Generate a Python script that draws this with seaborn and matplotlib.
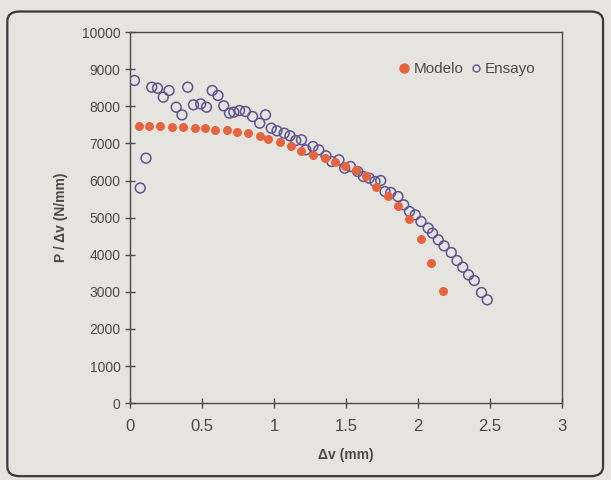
import numpy as np
import pandas as pd
import seaborn as sns
import matplotlib.pyplot as plt
from matplotlib.patches import FancyBboxPatch
from matplotlib.lines import Line2D

# Datos
modelo_x = [0.06, 0.13, 0.21, 0.29, 0.37, 0.45, 0.52, 0.59, 0.67, 0.74,
            0.82, 0.90, 0.96, 1.04, 1.12, 1.19, 1.27, 1.35, 1.42, 1.49,
            1.57, 1.64, 1.71, 1.79, 1.86, 1.94, 2.02, 2.09, 2.17]
modelo_y = [7470, 7470, 7470, 7440, 7440, 7410, 7410, 7370, 7350, 7320,
            7290, 7190, 7120, 7040, 6940, 6810, 6690, 6600, 6510, 6380,
            6290, 6130, 5840, 5590, 5320, 4960, 4430, 3790, 3030]

ensayo_x = [0.03, 0.07, 0.11, 0.15, 0.19, 0.23, 0.27, 0.32, 0.36, 0.40,
            0.44, 0.49, 0.53, 0.57, 0.61, 0.65, 0.69, 0.72, 0.76, 0.80,
            0.85, 0.90, 0.94, 0.98, 1.02, 1.07, 1.11, 1.15, 1.19, 1.22,
            1.27, 1.31, 1.36, 1.40, 1.45, 1.49, 1.53, 1.58, 1.62, 1.66,
            1.70, 1.74, 1.77, 1.81, 1.86, 1.90, 1.94, 1.98, 2.02, 2.07,
            2.10, 2.14, 2.18, 2.23, 2.27, 2.31, 2.35, 2.39, 2.44, 2.48]
ensayo_y = [8697, 5800, 6604, 8517, 8490, 8248, 8427, 7978, 7771, 8517,
            8041, 8068, 7978, 8427, 8293, 8014, 7817, 7844, 7888, 7862,
            7727, 7547, 7772, 7412, 7341, 7278, 7206, 7080, 7098, 6828,
            6918, 6828, 6667, 6514, 6559, 6334, 6379, 6244, 6110, 6065,
            5975, 6002, 5705, 5678, 5570, 5346, 5166, 5076, 4897, 4717,
            4582, 4402, 4241, 4061, 3845, 3666, 3459, 3306, 2983, 2785]

x_ticks = [0, 0.5, 1, 1.5, 2, 2.5, 3]
x_labels = ['0', '0.5', '1', '1.5', '2', '2.5', '3']
y_ticks = list(range(0, 10001, 1000))

bg = '#e6e4df'
naranja = '#e6643f'
morado = '#5e5590'
gris = '#4a4a4a'

sns.set_style('ticks')
plt.rcParams['font.family'] = ['Liberation Sans', 'DejaVu Sans']

fig = plt.figure(figsize=(6.11, 4.8), dpi=100, facecolor=bg)
ax = fig.add_axes([0.213, 0.16, 0.707, 0.773])
ax.set_facecolor(bg)

df_mod = pd.DataFrame({'x': modelo_x, 'y': modelo_y})
df_ens = pd.DataFrame({'x': ensayo_x, 'y': ensayo_y})

sns.scatterplot(data=df_ens, x='x', y='y', ax=ax, marker='o', s=50,
                facecolor='none', edgecolor=morado, linewidth=1.1, zorder=3)
sns.scatterplot(data=df_mod, x='x', y='y', ax=ax, marker='o', s=42,
                color=naranja, edgecolor=naranja, linewidth=0, zorder=4)

ax.set_xlim(0, 3)
ax.set_ylim(0, 10000)
ax.set_xticks(x_ticks)
ax.set_xticklabels(x_labels, fontsize=12, color=gris)
ax.set_yticks(y_ticks)
ax.set_yticklabels([str(v) for v in y_ticks], fontsize=10, color=gris)
ax.tick_params(axis='both', direction='inout', length=7, width=1, color=gris)
ax.tick_params(axis='x', pad=8)

for s in ax.spines.values():
    s.set_color(gris)
    s.set_linewidth(1)

ax.set_xlabel('Δv (mm)', fontsize=10, fontweight='bold', color=gris, labelpad=10)
ax.set_ylabel('P / Δv (N/mm)', fontsize=10, fontweight='bold', color=gris, labelpad=10)

handles = [Line2D([], [], marker='o', ls='none', color=naranja, markersize=6.5),
           Line2D([], [], marker='o', ls='none', markerfacecolor='none',
                  markeredgecolor=morado, markersize=5, markeredgewidth=1)]
leg = ax.legend(handles, ['Modelo', 'Ensayo'], ncol=2, frameon=False,
                loc='center right', bbox_to_anchor=(0.97, 0.9),
                handletextpad=0.1, columnspacing=0.3, handlelength=1.0,
                fontsize=11)
for t in leg.get_texts():
    t.set_color(gris)

# marco redondeado alrededor del grafico
marco = FancyBboxPatch((0.012, 0.008), 0.975, 0.968,
                       boxstyle='round,pad=0,rounding_size=0.02',
                       transform=fig.transFigure, facecolor='none',
                       edgecolor='#3a3a3a', linewidth=1.6)
fig.patches.append(marco)

fig.savefig('out.png', dpi=100, facecolor=bg)
